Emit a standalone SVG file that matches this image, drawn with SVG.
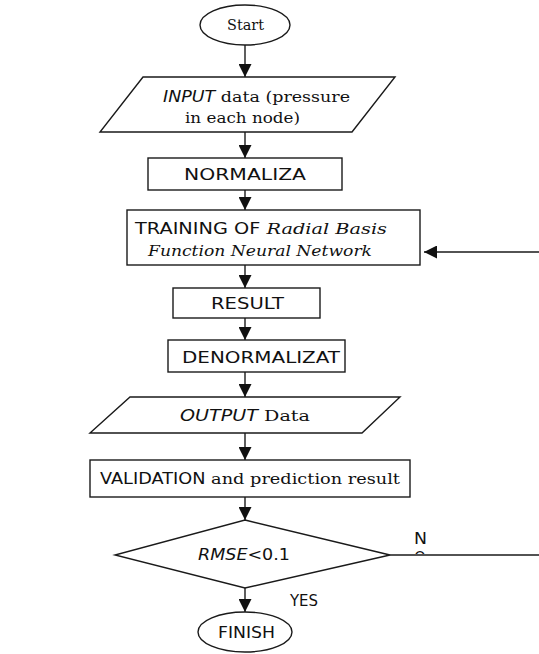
<svg xmlns="http://www.w3.org/2000/svg" width="539" height="654" viewBox="0 0 539 654">
<style>
.shape{fill:#fff;stroke:#1a1a1a;stroke-width:1.4}
.conn{fill:none;stroke:#1a1a1a;stroke-width:1.4}
.sans{font-family:"DejaVu Sans","Liberation Sans",sans-serif;font-size:15px;fill:#111}
.serif{font-family:"DejaVu Serif","Liberation Serif",serif;font-size:15px;fill:#111}
.it{font-style:italic}
</style>
<defs>
<marker id="ah" viewBox="0 0 10 10" refX="10" refY="5" markerWidth="13" markerHeight="13" markerUnits="userSpaceOnUse" orient="auto">
<path d="M0,0 L10,5 L0,10 z" fill="#111"/>
</marker>
<clipPath id="noclip"><rect x="410" y="548" width="30" height="6"/></clipPath>
</defs>
<rect width="539" height="654" fill="#fff"/>
<g id="connectors">
<line class="conn" x1="245" y1="44" x2="245" y2="77" marker-end="url(#ah)"/>
<line class="conn" x1="245" y1="132" x2="245" y2="158" marker-end="url(#ah)"/>
<line class="conn" x1="245" y1="190" x2="245" y2="210" marker-end="url(#ah)"/>
<line class="conn" x1="245" y1="265" x2="245" y2="288" marker-end="url(#ah)"/>
<line class="conn" x1="245" y1="318" x2="245" y2="340" marker-end="url(#ah)"/>
<line class="conn" x1="245" y1="372" x2="245" y2="397" marker-end="url(#ah)"/>
<line class="conn" x1="245" y1="433" x2="245" y2="460" marker-end="url(#ah)"/>
<line class="conn" x1="245" y1="497" x2="245" y2="520" marker-end="url(#ah)"/>
<line class="conn" x1="245" y1="588" x2="245" y2="612" marker-end="url(#ah)"/>
<line class="conn" x1="390" y1="555" x2="539" y2="555"/>
<line class="conn" x1="539" y1="252" x2="424" y2="252" marker-end="url(#ah)"/>
<text class="sans" x="414" y="544" textLength="13" lengthAdjust="spacingAndGlyphs">N</text>
<text class="sans" x="414" y="563" clip-path="url(#noclip)">O</text>
<text class="sans" x="290" y="606" textLength="28" lengthAdjust="spacingAndGlyphs">YES</text>
</g>
<g id="start">
<ellipse class="shape" cx="245" cy="25" rx="45" ry="20"/>
<text class="serif" x="227" y="30" textLength="37" lengthAdjust="spacingAndGlyphs">Start</text>
</g>
<g id="input">
<polygon class="shape" points="143,77 395,77 352,132 100,132"/>
<text class="serif" x="163" y="102" textLength="187" lengthAdjust="spacingAndGlyphs"><tspan class="sans it">INPUT</tspan> data (pressure</text>
<text class="serif" x="185" y="123" textLength="115" lengthAdjust="spacingAndGlyphs">in each node)</text>
</g>
<g id="normaliza">
<rect class="shape" x="148" y="158" width="194" height="32"/>
<text class="sans" x="184" y="180" textLength="122" lengthAdjust="spacingAndGlyphs">NORMALIZA</text>
</g>
<g id="training">
<rect class="shape" x="127" y="210" width="293" height="55"/>
<text class="sans" x="135" y="234" textLength="252" lengthAdjust="spacingAndGlyphs">TRAINING OF <tspan class="serif it">Radial Basis</tspan></text>
<text class="serif it" x="148" y="256" textLength="224" lengthAdjust="spacingAndGlyphs">Function Neural Network</text>
</g>
<g id="result">
<rect class="shape" x="173" y="288" width="147" height="30"/>
<text class="sans" x="211" y="309" textLength="73" lengthAdjust="spacingAndGlyphs">RESULT</text>
</g>
<g id="denormalizat">
<rect class="shape" x="168" y="340" width="177" height="32"/>
<text class="sans" x="182" y="363" textLength="158" lengthAdjust="spacingAndGlyphs">DENORMALIZAT</text>
</g>
<g id="output">
<polygon class="shape" points="130,397 400,397 362,433 90,433"/>
<text class="sans it" x="180" y="421" textLength="130" lengthAdjust="spacingAndGlyphs">OUTPUT <tspan class="serif" font-style="normal">Data</tspan></text>
</g>
<g id="validation">
<rect class="shape" x="90" y="460" width="320" height="37"/>
<text class="sans" x="100" y="484" textLength="300" lengthAdjust="spacingAndGlyphs">VALIDATION <tspan class="serif">and prediction result</tspan></text>
</g>
<g id="decision">
<polygon class="shape" points="245,520 390,555 245,588 115,555"/>
<text class="sans" x="198" y="560" textLength="92" lengthAdjust="spacingAndGlyphs"><tspan class="it">RMSE</tspan>&lt;0.1</text>
</g>
<g id="finish">
<ellipse class="shape" cx="245" cy="632" rx="47" ry="20"/>
<text class="sans" x="218" y="638" textLength="57" lengthAdjust="spacingAndGlyphs">FINISH</text>
</g>
</svg>
